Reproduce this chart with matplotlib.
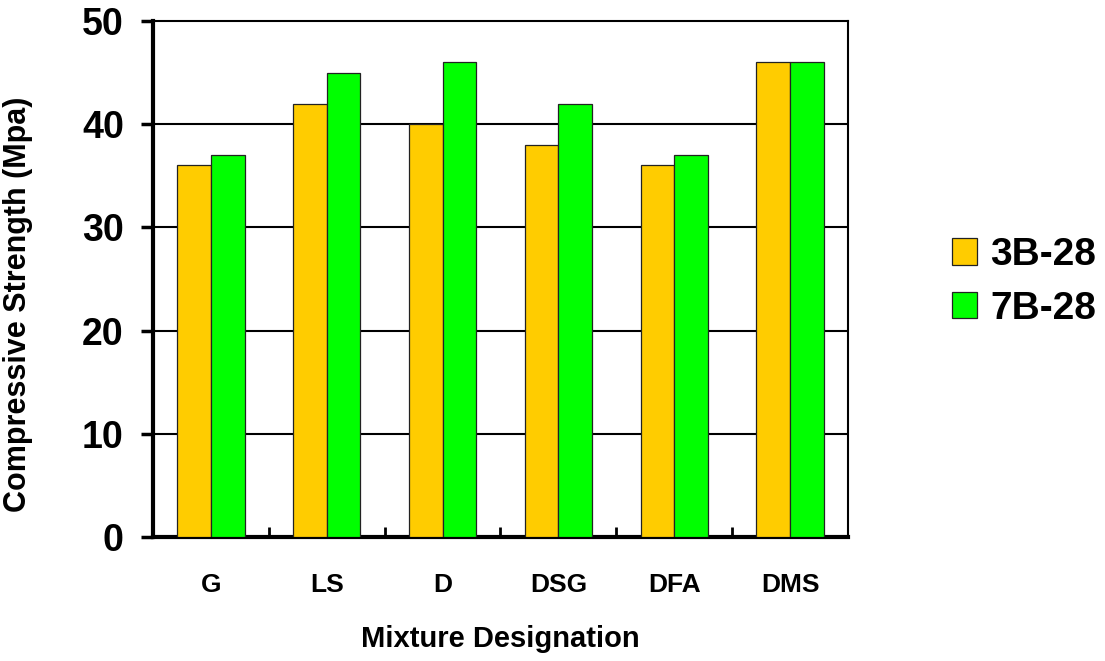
import numpy as np
from matplotlib import pyplot as plt

mixtures = ["G", "LS", "D", "DSG", "DFA", "DMS"]
strength_3b = [36, 42, 40, 38, 36, 46]
strength_7b = [37, 45, 46, 42, 37, 46]

plt.rcParams['font.family'] = ['Liberation Sans', 'DejaVu Sans']
plt.rcParams['font.weight'] = 'bold'

fig = plt.figure(figsize=(11.05, 6.61), dpi=100)
ax = fig.add_axes([153 / 1105, 1 - 537 / 661, 695 / 1105, 516 / 661])

x = np.arange(len(mixtures))
w = 0.29
ax.bar(x - w / 2, strength_3b, w, color="#FFCC00", edgecolor="#222222",
       linewidth=0.9, label="3B-28", zorder=3)
ax.bar(x + w / 2, strength_7b, w, color="#00FF00", edgecolor="#222222",
       linewidth=0.9, label="7B-28", zorder=3)

ax.set_xlim(-0.5, len(mixtures) - 0.5)
ax.set_ylim(0, 50)
ax.set_yticks(range(0, 51, 10))
for yv in range(10, 50, 10):
    ax.axhline(yv, color="black", linewidth=1.5, zorder=1)

ax.set_xticks(x)
ax.set_xticklabels(mixtures, fontsize=19, fontweight="bold")
ax.set_xticks(x[:-1] + 0.5, minor=True)
ax.tick_params(axis="x", which="major", length=0, pad=26)
ax.tick_params(axis="x", which="minor", direction="in", length=7, width=2)
ax.tick_params(axis="y", direction="out", length=9, width=2.5, pad=12,
               labelsize=27)
for lab in ax.get_yticklabels():
    lab.set_fontweight("bold")

for side in ["left", "bottom"]:
    ax.spines[side].set_linewidth(3)
for side in ["top", "right"]:
    ax.spines[side].set_linewidth(1.5)

ax.set_ylabel("Compressive Strength (Mpa)", fontsize=22, fontweight="bold")
ax.yaxis.set_label_coords(-0.172, 0.45)
ax.set_xlabel("Mixture Designation", fontsize=21, fontweight="bold")
ax.xaxis.set_label_coords(0.5, -0.1705)

leg = fig.legend(loc="center left", bbox_to_anchor=(952 / 1105, 1 - 282 / 661),
                 frameon=False, prop={"size": 28, "weight": "bold"},
                 borderpad=0, borderaxespad=0,
                 handlelength=0.65, handleheight=0.67, handletextpad=0.33,
                 labelspacing=0.45)

plt.savefig("out.png", dpi=100)
